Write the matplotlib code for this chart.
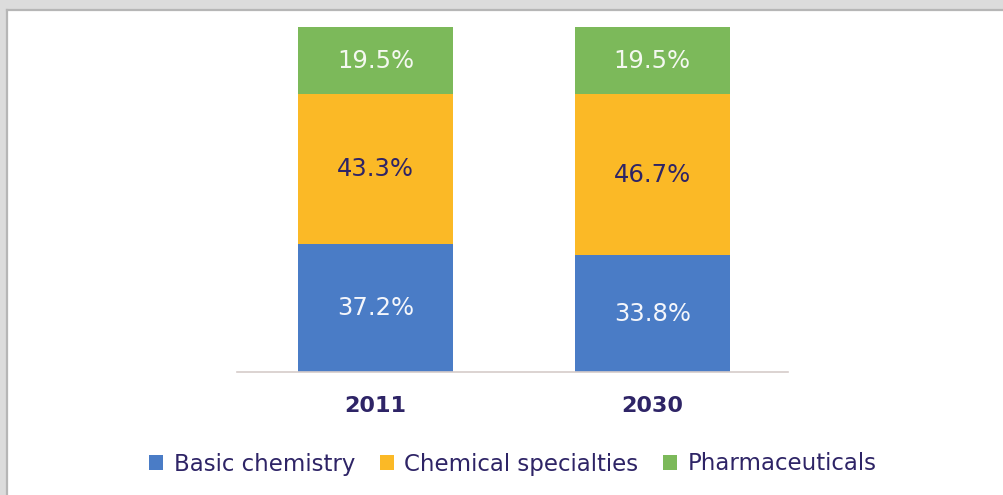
import matplotlib.pyplot as plt
from matplotlib.patches import Rectangle
from matplotlib.lines import Line2D

# chart data
years = ['2011', '2030']
segments = ['Basic chemistry', 'Chemical specialties', 'Pharmaceuticals']
basic = [37.2, 33.8]
specialties = [43.3, 46.7]
pharma = [19.5, 19.5]

colors = ['#4a7cc6', '#fbb926', '#7cb95a']
label_colors = ['#f4f6fb', '#2e2466', '#f4f8f0']
navy = '#2e2466'

fig = plt.figure(figsize=(10.04, 4.95), dpi=100, facecolor='#dcdcdc')

# white panel with darker gray edge on left and top
fig.patches.append(Rectangle((7 / 1004, 0), 1, 1 - 10 / 495, transform=fig.transFigure,
                             facecolor='white', edgecolor='none', zorder=-2))
fig.lines.append(Line2D([6.5 / 1004, 6.5 / 1004], [0, 1 - 9.5 / 495], transform=fig.transFigure,
                        color='#b6b6b6', lw=1.6, zorder=-1))
fig.lines.append(Line2D([6.5 / 1004, 1], [1 - 9.5 / 495, 1 - 9.5 / 495], transform=fig.transFigure,
                        color='#b6b6b6', lw=1.6, zorder=-1))

ax = fig.add_axes([237 / 1004, 1 - 372 / 495, (788 - 237) / 1004, 345 / 495])
ax.set_facecolor('none')

x = range(len(years))
bottom = [0, 0]
for vals, col, tcol, name in zip([basic, specialties, pharma], colors, label_colors, segments):
    ax.bar(x, vals, width=0.56, bottom=bottom, color=col, label=name, zorder=2)
    for i, v in enumerate(vals):
        ax.text(i, bottom[i] + v / 2, f'{v:.1f}%', ha='center', va='center',
                fontsize=17.5, color=tcol, zorder=3)
    bottom = [b + v for b, v in zip(bottom, vals)]

ax.set_xlim(-0.5, 1.49)
ax.set_ylim(0, 100)
for s in ['top', 'right', 'left']:
    ax.spines[s].set_visible(False)
ax.spines['bottom'].set_color('#d6ccca')
ax.spines['bottom'].set_linewidth(1.2)
ax.set_yticks([])
ax.set_xticks(list(x))
ax.set_xticklabels(years, fontsize=16, fontweight='bold', color=navy)
ax.tick_params(axis='x', length=0, pad=17)

handles, labels = ax.get_legend_handles_labels()
leg = fig.legend(handles, labels, loc='center', bbox_to_anchor=(513 / 1004, 1 - 464 / 495),
                 ncol=3, frameon=False, fontsize=16.5, handlelength=0.6, handleheight=0.6,
                 handletextpad=0.45, columnspacing=1.1, borderaxespad=0)
for t in leg.get_texts():
    t.set_color(navy)

fig.savefig('out.png', dpi=100, facecolor=fig.get_facecolor())
